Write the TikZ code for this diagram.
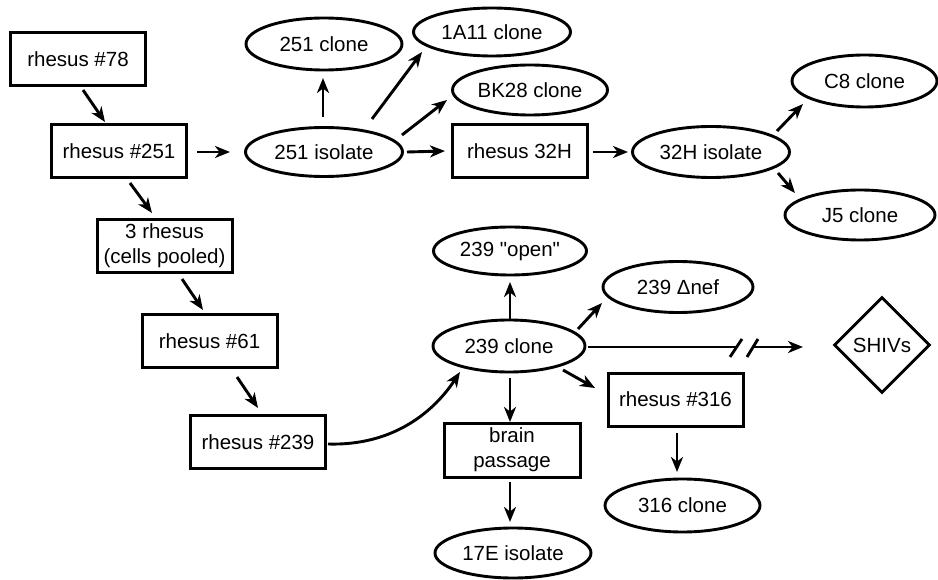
\documentclass[tikz,border=0pt]{standalone}
\usepackage{fontspec}
\setmainfont{Liberation Sans}
\newfontfamily\rawsans{Liberation Sans}[Ligatures=TeXOff]
\usetikzlibrary{arrows.meta,shapes.geometric}
\tikzset{
  boxnode/.style={draw, line width=3pt, rectangle, minimum width=135pt, minimum height=53pt, inner sep=0pt, align=center, font=\fontsize{20.5}{25}\selectfont},
  ellnode/.style={draw, line width=2.9pt, ellipse, inner sep=0pt, font=\fontsize{20.5}{25}\selectfont},
  dianode/.style={draw, line width=2.9pt, diamond, inner sep=0pt, minimum width=96pt, minimum height=96pt, font=\fontsize{20.5}{25}\selectfont},
  arr/.style={line width=2.9pt, -{Stealth[length=15pt,width=12pt,inset=4.5pt]}},
  plainline/.style={line width=2.9pt}
}
\begin{document}
\begin{tikzpicture}[x=1pt,y=-1pt]
\useasboundingbox (0,0) rectangle (938,580);
% boxes
\node[boxnode] (r78) at (78,59.5) {rhesus \#78};
\node[boxnode] (r251) at (119,151) {rhesus \#251};
\node[boxnode] (r3) at (164.5,246) {3 rhesus\\(cells pooled)};
\node[boxnode] (r61) at (209.5,341) {rhesus \#61};
\node[boxnode] (r239) at (258,442) {rhesus \#239};
\node[boxnode] (r32H) at (519.5,151) {rhesus 32H};
\node[boxnode] (r316) at (675.5,399.5) {rhesus \#316};
\node[boxnode, minimum width=136pt, minimum height=54pt] (brain) at (512,450) {brain\\passage};
% ellipses
\node[ellnode, minimum width=156pt, minimum height=52pt] (c251) at (324,44) {251 clone};
\node[ellnode, minimum width=157pt, minimum height=49pt] (iso251) at (324,152) {251 isolate};
\node[ellnode, minimum width=157pt, minimum height=48pt] (a1A11) at (492,32) {1A11 clone};
\node[ellnode, minimum width=155pt, minimum height=50pt] (bk28) at (530,90) {BK28 clone};
\node[ellnode, minimum width=157pt, minimum height=51pt] (iso32H) at (711,152) {32H isolate};
\node[ellnode, minimum width=145pt, minimum height=52pt] (c8) at (864.5,81) {C8 clone};
\node[ellnode, minimum width=150pt, minimum height=50pt] (j5) at (860,215) {J5 clone};
\node[ellnode, minimum width=153pt, minimum height=48pt] (open239) at (510,251) {\rawsans 239 "open"};
\node[ellnode, minimum width=152pt, minimum height=52pt] (clone239) at (509,346) {239 clone};
\node[ellnode, minimum width=150pt, minimum height=51pt] (nef239) at (678,287) {239 Δnef};
\node[ellnode, minimum width=155pt, minimum height=53pt] (c316) at (682.5,505.5) {316 clone};
\node[ellnode, minimum width=156pt, minimum height=50pt] (e17) at (513,553) {17E isolate};
\node[dianode] (shiv) at (882,345) {SHIVs};
% connectors
\draw[arr] ([shift={(5,30.5)}]r78.center) -- ([shift={(-14,-29)}]r251.center);
\draw[arr] ([shift={(78,1)}]r251.center) -- ([shift={(-94,0)}]iso251.center);
\draw[arr] ([shift={(11,32)}]r251.center) -- ([shift={(-12.5,-33)}]r3.center);
\draw[arr] ([shift={(17.5,33)}]r3.center) -- ([shift={(-6.5,-31)}]r61.center);
\draw[arr] ([shift={(27.5,36)}]r61.center) -- ([shift={(0,-34)}]r239.center);
\draw[arr] ([shift={(70,2)}]r239.center) .. controls (395,446) and (435,410) .. ([shift={(-49,26)}]clone239.center);
\draw[arr] ([shift={(-1,-35)}]iso251.center) -- ([shift={(-1,34)}]c251.center);
\draw[arr] ([shift={(48,-33)}]iso251.center) -- ([shift={(-70,20)}]a1A11.center);
\draw[arr] ([shift={(78,-17)}]iso251.center) -- ([shift={(-83,10)}]bk28.center);
\draw[arr] ([shift={(83,0)}]iso251.center) -- ([shift={(-74.5,0)}]r32H.center);
\draw[arr] ([shift={(73.5,1)}]r32H.center) -- ([shift={(-83,0)}]iso32H.center);
\draw[arr] ([shift={(66,-21)}]iso32H.center) -- ([shift={(-61.5,23)}]c8.center);
\draw[arr] ([shift={(67,21)}]iso32H.center) -- ([shift={(-65,-22)}]j5.center);
\draw[arr] ([shift={(1,-26)}]clone239.center) -- ([shift={(0,31)}]open239.center);
\draw[arr] ([shift={(69,-17)}]clone239.center) -- ([shift={(-76,16)}]nef239.center);
\draw[arr] ([shift={(1,32)}]clone239.center) -- ([shift={(-2,-28)}]brain.center);
\draw[arr] ([shift={(54,24)}]clone239.center) -- ([shift={(-80.5,-11.5)}]r316.center);
\draw[arr] ([shift={(1.5,33.5)}]r316.center) -- ([shift={(-5.5,-33.5)}]c316.center);
\draw[arr] ([shift={(-2,32)}]brain.center) -- ([shift={(-3,-31)}]e17.center);
% broken connector to SHIVs
\coordinate (brkA) at (736,347);
\coordinate (brkB) at (752,347);
\draw[plainline] ([shift={(79,1)}]clone239.center) -- (brkA);
\draw[arr] (brkB) -- ([shift={(-79,2)}]shiv.center);
\draw[plainline] ([shift={(-6,10)}]brkA) -- ([shift={(6,-8)}]brkA);
\draw[plainline] ([shift={(-5,10)}]brkB) -- ([shift={(6,-8)}]brkB);
\end{tikzpicture}
\end{document}
